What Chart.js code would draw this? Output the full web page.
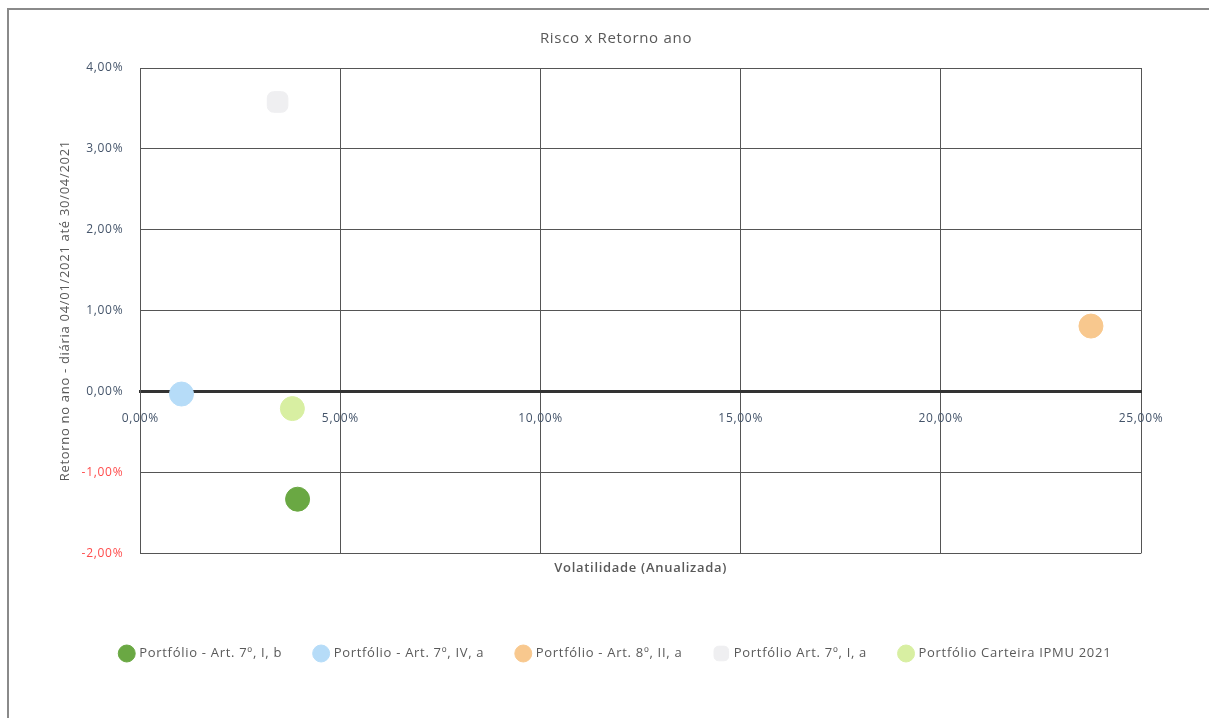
<!DOCTYPE html>
<html lang="pt">
<head>
  <meta charset="UTF-8" />
  <title>Risco x Retorno ano</title>
  <script src="https://cdn.jsdelivr.net/npm/chart.js"></script>
  <style>
    body { margin: 0; background: #fff; }
    #frame { position: absolute; left: 7px; top: 8px; width: 1230px; height: 730px; border: 2px solid #8a8a8a; }
    #wrap { position: absolute; left: 0; top: 0; width: 1209px; height: 718px; }
  </style>
</head>
<body>
  <div id="frame"></div>
  <div id="wrap"><canvas id="riskChart"></canvas></div>

  <script>
    // series names and colours
    const seriesNames = [
      'Portfólio - Art. 7º, I, b',
      'Portfólio - Art. 7º, IV, a',
      'Portfólio - Art. 8º, II, a',
      'Portfólio Art. 7º, I, a',
      'Portfólio Carteira IPMU 2021'
    ];
    const seriesColors = ['#6aa843', '#b6dcf8', '#f8c88e', '#efeff1', '#d8efa2'];
    const seriesShapes = ['circle', 'circle', 'circle', 'rectRounded', 'circle'];

    // volatilidade (x, %) and retorno (y, %)
    const volatility = [3.93, 1.03, 23.75, 3.43, 3.80];
    const returns = [-1.33, -0.03, 0.81, 3.58, -0.21];

    const xTicks = [0, 5, 10, 15, 20, 25];
    const yTicks = [-2, -1, 0, 1, 2, 3, 4];

    const pct = v => v.toFixed(2).replace('.', ',') + '%';

    const datasets = seriesNames.map((name, i) => ({
      label: name,
      data: [{ x: volatility[i], y: returns[i] }],
      backgroundColor: seriesColors[i],
      borderColor: seriesColors[i],
      pointStyle: seriesShapes[i],
      pointRadius: 12,
      pointHoverRadius: 12
    }));

    // the scanned original has loose letter spacing
    const spacing = {
      id: 'spacing',
      beforeLayout: c => { c.ctx.letterSpacing = '0.7px'; },
      beforeDraw: c => { c.ctx.letterSpacing = '0.7px'; }
    };

    new Chart(document.getElementById('riskChart'), {
      type: 'scatter',
      data: { datasets },
      plugins: [spacing],
      options: {
        responsive: true,
        maintainAspectRatio: false,
        animation: false,
        layout: { padding: { left: 53, right: 30, top: 14, bottom: 48 } },
        plugins: {
          title: {
            display: true,
            text: 'Risco x Retorno ano',
            color: '#595959',
            font: { family: 'Open Sans', size: 15, weight: 'normal' },
            padding: { top: 16, bottom: 20 }
          },
          legend: {
            position: 'bottom',
            labels: {
              usePointStyle: true,
              boxWidth: 12,
              boxHeight: 12,
              padding: 33,
              color: '#595959',
              font: { family: 'Open Sans', size: 13 }
            }
          },
          tooltip: { enabled: false }
        },
        scales: {
          x: {
            type: 'linear',
            position: { y: 0 },
            min: 0,
            max: 25,
            afterBuildTicks: s => { s.ticks = xTicks.map(v => ({ value: v })); },
            ticks: {
              callback: v => pct(v),
              color: '#44546a',
              font: { family: 'Open Sans', size: 12 },
              padding: 20
            },
            grid: { color: '#555', lineWidth: 1, drawTicks: false },
            border: { color: '#333', width: 3 }
          },
          xt: {
            type: 'linear',
            position: 'bottom',
            min: 0,
            max: 25,
            ticks: { display: false },
            grid: { display: false, drawTicks: false },
            border: { display: false },
            title: {
              display: true,
              text: 'Volatilidade (Anualizada)',
              color: '#595959',
              font: { family: 'Open Sans', size: 13, weight: '600' },
              padding: { top: 7, bottom: 38 }
            }
          },
          y: {
            type: 'linear',
            min: -2,
            max: 4,
            afterBuildTicks: s => { s.ticks = yTicks.map(v => ({ value: v })); },
            ticks: {
              callback: v => pct(v),
              color: ctx => ctx.tick.value < 0 ? '#ff4b4b' : '#44546a',
              font: { family: 'Open Sans', size: 12 },
              padding: 17
            },
            grid: { color: '#555', lineWidth: 1, drawTicks: false },
            border: { color: '#555', width: 1 },
            title: {
              display: true,
              text: 'Retorno no ano - diária 04/01/2021 até 30/04/2021',
              color: '#595959',
              font: { family: 'Open Sans', size: 13 },
              padding: { top: 4, bottom: -8 }
            }
          },
          // empty right axis that keeps room on the right of the plot
          yr: {
            type: 'linear',
            position: 'right',
            min: -2,
            max: 4,
            ticks: { display: false },
            grid: { display: false, drawTicks: false },
            border: { display: false },
            afterFit: s => { s.width = 38; }
          }
        }
      }
    });
  </script>
</body>
</html>
